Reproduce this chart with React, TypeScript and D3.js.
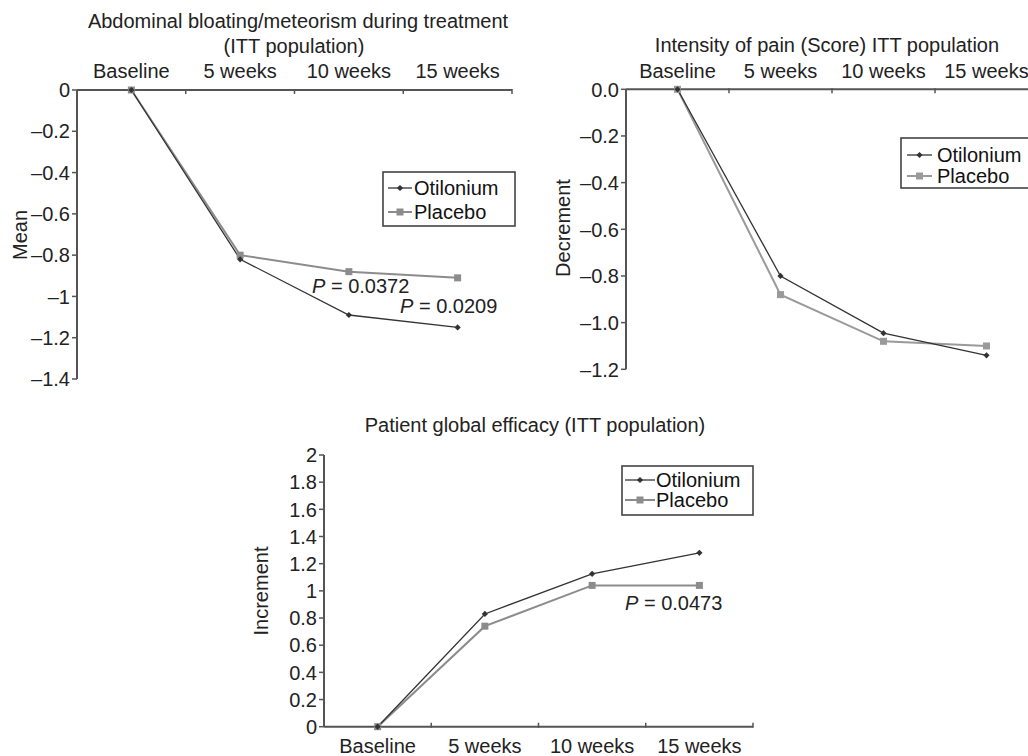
import React from "react";
import * as d3 from "d3";

const categories = ["Baseline", "5 weeks", "10 weeks", "15 weeks"];

const bloatingOtilonium = [0, -0.82, -1.09, -1.15];
const bloatingPlacebo = [0, -0.8, -0.88, -0.91];
const bloatingTicks = [0, -0.2, -0.4, -0.6, -0.8, -1, -1.2, -1.4];

const painOtilonium = [0, -0.8, -1.045, -1.14];
const painPlacebo = [0, -0.88, -1.08, -1.1];
const painTicks = [0, -0.2, -0.4, -0.6, -0.8, -1.0, -1.2];

const efficacyOtilonium = [0, 0.83, 1.125, 1.28];
const efficacyPlacebo = [0, 0.74, 1.04, 1.04];
const efficacyTicks = [0, 0.2, 0.4, 0.6, 0.8, 1, 1.2, 1.4, 1.6, 1.8, 2];

const seriesNames = ["Otilonium", "Placebo"];

const FONT = "'Liberation Sans', Arial, Helvetica, sans-serif";
const FS = 20;
const AXIS = "#555";
const DARK = "#333";
const GRAY = "#8c8c8c";

const fmtShort = (v: number) => (v < 0 ? "\u2013" : "") + String(+Math.abs(v).toFixed(1));
const fmtFixed = (v: number) => (v < 0 ? "\u2013" : "") + Math.abs(v).toFixed(1);

type PanelProps = {
  xRange: [number, number];
  yDomain: [number, number];
  yRange: [number, number];
  ticks: number[];
  fmt: (v: number) => string;
  axisAt: "top" | "bottom";
  labelY: number;
  otilonium: number[];
  placebo: number[];
  placeboColor: string;
};

function Panel(p: PanelProps) {
  const x = d3.scaleBand<string>().domain(categories).range(p.xRange).padding(0);
  const y = d3.scaleLinear().domain(p.yDomain).range(p.yRange);
  const cx = (c: string) => (x(c) as number) + x.bandwidth() / 2;
  const axisY = p.axisAt === "top" ? y(0) : y(0);
  const line = d3
    .line<number>()
    .x((_, i) => cx(categories[i]))
    .y((d) => y(d));
  const x0 = p.xRange[0];
  const yTop = Math.min(...p.yRange);
  const yBot = Math.max(...p.yRange);
  const boundaries = categories.map((c) => (x(c) as number) + x.bandwidth());
  const tickDir = p.axisAt === "top" ? 4 : -4;
  return (
    <g>
      {/* y axis */}
      <line x1={x0} x2={x0} y1={yTop} y2={yBot} stroke={AXIS} strokeWidth={2} />
      {p.ticks.map((t) => (
        <g key={t}>
          <line x1={x0 - 5} x2={x0} y1={y(t)} y2={y(t)} stroke={AXIS} strokeWidth={1.5} />
          <text
            x={x0 - 7}
            y={y(t)}
            dy="0.36em"
            textAnchor="end"
            fontSize={FS}
            fill="#222"
          >
            {p.fmt(t)}
          </text>
        </g>
      ))}
      {/* x axis */}
      <line x1={x0} x2={p.xRange[1]} y1={axisY} y2={axisY} stroke={AXIS} strokeWidth={2} />
      {boundaries.map((b, i) => (
        <line key={i} x1={b} x2={b} y1={axisY - (p.axisAt === "top" ? 1 : -1)} y2={axisY + tickDir} stroke={AXIS} strokeWidth={1.5} />
      ))}
      {categories.map((c) => (
        <text key={c} x={cx(c)} y={p.labelY} textAnchor="middle" fontSize={FS} fill="#222">
          {c}
        </text>
      ))}
      {/* series */}
      <path d={line(p.placebo) || ""} fill="none" stroke={p.placeboColor} strokeWidth={2} />
      <path d={line(p.otilonium) || ""} fill="none" stroke={DARK} strokeWidth={1.3} />
      {p.placebo.map((v, i) => (
        <rect key={i} x={cx(categories[i]) - 3.5} y={y(v) - 3.5} width={7} height={7} fill={p.placeboColor} />
      ))}
      {p.otilonium.map((v, i) => (
        <rect
          key={i}
          x={-2.2}
          y={-2.2}
          width={4.4}
          height={4.4}
          fill={DARK}
          transform={`translate(${cx(categories[i])},${y(v)}) rotate(45)`}
        />
      ))}
    </g>
  );
}

function Legend({ x, y, w, h, rowY, lineX, textX, placeboColor }: any) {
  return (
    <g>
      <rect x={x} y={y} width={w} height={h} fill="white" stroke="#444" strokeWidth={1.6} />
      {seriesNames.map((n, i) => {
        const ly = rowY[i];
        const col = i === 0 ? DARK : placeboColor;
        const mx = (lineX[0] + lineX[1]) / 2;
        return (
          <g key={n}>
            <line x1={lineX[0]} x2={lineX[1]} y1={ly - 7} y2={ly - 7} stroke={col} strokeWidth={i === 0 ? 1.3 : 2} />
            {i === 0 ? (
              <rect x={-2.2} y={-2.2} width={4.4} height={4.4} fill={col} transform={`translate(${mx},${ly - 7}) rotate(45)`} />
            ) : (
              <rect x={mx - 3.5} y={ly - 10.5} width={7} height={7} fill={col} />
            )}
            <text x={textX} y={ly} fontSize={FS} fill="#111">
              {n}
            </text>
          </g>
        );
      })}
    </g>
  );
}

function PText({ x, y, value }: { x: number; y: number; value: string }) {
  return (
    <text x={x} y={y} fontSize={FS} fill="#222">
      <tspan fontStyle="italic">P</tspan>
      <tspan>{" = " + value}</tspan>
    </text>
  );
}

export default function App() {
  return (
    <svg
      width={1028}
      height={756}
      style={{ position: "absolute", left: 0, top: 0, background: "white" }}
      fontFamily={FONT}
    >
      {/* Panel 1 */}
      <text x={298} y={28} textAnchor="middle" fontSize={FS} fill="#222">
        Abdominal bloating/meteorism during treatment
      </text>
      <text x={294} y={53} textAnchor="middle" fontSize={FS} fill="#222">
        (ITT population)
      </text>
      <text transform="translate(27,235) rotate(-90)" textAnchor="middle" fontSize={FS} fill="#222">
        Mean
      </text>
      <Panel
        xRange={[77, 512]}
        yDomain={[-1.4, 0]}
        yRange={[379, 90]}
        ticks={bloatingTicks}
        fmt={fmtShort}
        axisAt="top"
        labelY={78}
        otilonium={bloatingOtilonium}
        placebo={bloatingPlacebo}
        placeboColor={GRAY}
      />
      <Legend x={383} y={172} w={132} h={54} rowY={[195, 219]} lineX={[388, 412]} textX={414} placeboColor={GRAY} />
      <PText x={312} y={293} value="0.0372" />
      <PText x={400} y={313} value="0.0209" />

      {/* Panel 2 */}
      <text x={827} y={52} textAnchor="middle" fontSize={FS} fill="#222">
        Intensity of pain (Score) ITT population
      </text>
      <text transform="translate(570,228) rotate(-90)" textAnchor="middle" fontSize={FS} fill="#222">
        Decrement
      </text>
      <Panel
        xRange={[626, 1038]}
        yDomain={[-1.2, 0]}
        yRange={[369.3, 89.3]}
        ticks={painTicks}
        fmt={fmtFixed}
        axisAt="top"
        labelY={78}
        otilonium={painOtilonium}
        placebo={painPlacebo}
        placeboColor="#9a9a9a"
      />
      <Legend x={901} y={138} w={140} h={50} rowY={[162, 183]} lineX={[907, 932]} textX={937} placeboColor="#9a9a9a" />

      {/* Panel 3 */}
      <text x={535} y={432} textAnchor="middle" fontSize={FS} fill="#222">
        Patient global efficacy (ITT population)
      </text>
      <text transform="translate(268,591) rotate(-90)" textAnchor="middle" fontSize={FS} fill="#222">
        Increment
      </text>
      <Panel
        xRange={[324, 753]}
        yDomain={[0, 2]}
        yRange={[726.7, 455]}
        ticks={efficacyTicks}
        fmt={fmtShort}
        axisAt="bottom"
        labelY={753}
        otilonium={efficacyOtilonium}
        placebo={efficacyPlacebo}
        placeboColor={GRAY}
      />
      <Legend x={622} y={466} w={131} h={49} rowY={[487, 507]} lineX={[625, 655]} textX={656} placeboColor={GRAY} />
      <PText x={625} y={610} value="0.0473" />
    </svg>
  );
}
